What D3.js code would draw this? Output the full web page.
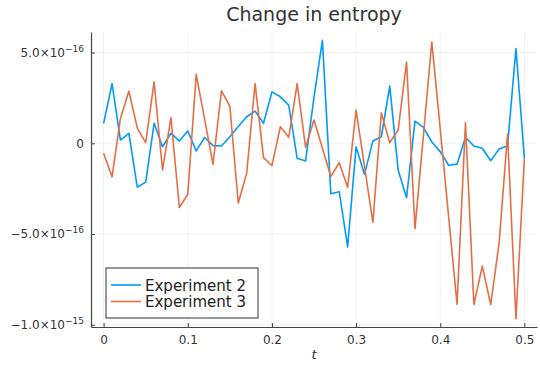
<html>
<head>
<script src="https://cdn.jsdelivr.net/npm/d3@7"></script>
<style>
    body { margin: 0; background: #fff; }
    text { font-family: "DejaVu Sans", sans-serif; fill: #333; }
</style>
</head>
<body>
<svg id="chart" width="540" height="365"></svg>
<script>
    // t values and the two series (values in units of 1e-16)
    const tValues = [0, 0.01, 0.02, 0.03, 0.04, 0.05, 0.06, 0.07, 0.08, 0.09,
        0.1, 0.11, 0.12, 0.13, 0.14, 0.15, 0.16, 0.17, 0.18, 0.19,
        0.2, 0.21, 0.22, 0.23, 0.24, 0.25, 0.26, 0.27, 0.28, 0.29,
        0.3, 0.31, 0.32, 0.33, 0.34, 0.35, 0.36, 0.37, 0.38, 0.39,
        0.4, 0.41, 0.42, 0.43, 0.44, 0.45, 0.46, 0.47, 0.48, 0.49, 0.5]
    const experiment2 = [1.10, 3.29, 0.18, 0.55, -2.42, -2.14, 1.10, -0.19, 0.55, 0.13,
        0.68, -0.42, 0.32, -0.13, -0.15, 0.36, 0.92, 1.46, 1.77, 1.10,
        2.83, 2.56, 2.10, -0.83, -0.97, 2.54, 5.67, -2.78, -2.67, -5.71,
        -0.20, -1.71, 0.13, 0.36, 3.15, -1.47, -3.00, 1.22, 0.88, 0.07,
        -0.46, -1.21, -1.15, 0.33, -0.15, -0.27, -0.96, -0.31, -0.13, 5.22, -0.82]
    const experiment3 = [-0.55, -1.85, 1.37, 2.87, 0.84, 0.04, 3.38, -1.47, 1.42, -3.54,
        -2.81, 3.80, 1.33, -1.16, 2.89, 2.05, -3.29, -1.65, 3.29, -0.79,
        -1.23, 0.91, 0.33, 3.29, -0.22, 1.28, -0.27, -1.83, -1.07, -2.43,
        1.83, -1.27, -4.36, 1.68, 0.03, 0.73, 4.48, -4.70, 0.43, 5.58,
        0.79, -4.05, -8.88, 1.13, -8.88, -6.77, -8.88, -5.49, 0.51, -9.66, -0.82]
    const seriesNames = ["Experiment 2", "Experiment 3"]
    const seriesColors = ["#009AFA", "#E36F47"]
    const unit = 1e-16

    const xTicks = [0, 0.1, 0.2, 0.3, 0.4, 0.5]
    const yTicks = [5e-16, 0, -5e-16, -1e-15]
    const yTickMantissa = ["5.0", "0", "\u22125.0", "\u22121.0"]
    const yTickExponent = ["\u221216", "", "\u221216", "\u221215"]

    const svg = d3.select("#chart")
    const plotLeft = 91, plotRight = 537, plotTop = 32, plotBottom = 327

    // Plots.jl style: widen the data range by 3%
    function widen(ext) {
        let pad = (ext[1] - ext[0]) * 0.03
        return [ext[0] - pad, ext[1] + pad]
    }
    let all = experiment2.concat(experiment3).map(d => d * unit)
    let x = d3.scaleLinear().domain(widen(d3.extent(tValues))).range([plotLeft, plotRight])
    let y = d3.scaleLinear().domain(widen(d3.extent(all))).range([plotBottom, plotTop])

    // grid
    let grid = svg.append("g")
    grid.selectAll(".gx").data(xTicks).enter().append("line")
        .attr("x1", d => x(d)).attr("x2", d => x(d))
        .attr("y1", plotTop).attr("y2", plotBottom)
        .style("stroke", "#000").style("stroke-opacity", 0.1).style("stroke-width", 0.6)
    grid.selectAll(".gy").data(yTicks).enter().append("line")
        .attr("x1", plotLeft).attr("x2", plotRight)
        .attr("y1", d => y(d)).attr("y2", d => y(d))
        .style("stroke", "#000").style("stroke-opacity", 0.1).style("stroke-width", 0.6)

    // lines
    let series = [experiment2, experiment3]
    let line = d3.line().x((d, i) => x(tValues[i])).y(d => y(d * unit))
    svg.selectAll(".series").data(series).enter().append("path")
        .attr("d", d => line(d))
        .style("fill", "none")
        .style("stroke", (d, i) => seriesColors[i])
        .style("stroke-width", 1.6)
        .style("stroke-linejoin", "round")

    // axes
    let xAxis = d3.axisBottom(x).tickValues(xTicks).tickSize(-4).tickSizeOuter(0).tickPadding(8)
        .tickFormat(d => d === 0 ? "0" : d3.format(".1f")(d))
    let xg = svg.append("g").attr("transform", `translate(0,${plotBottom})`).call(xAxis)
    let yAxis = d3.axisLeft(y).tickValues(yTicks).tickSize(-4).tickSizeOuter(0).tickPadding(7)
    let yg = svg.append("g").attr("transform", `translate(${plotLeft},0)`).call(yAxis)

    for (let g of [xg, yg]) {
        g.select(".domain").style("stroke", "#444").style("stroke-width", 1.2)
        g.selectAll(".tick line").style("stroke", "#444")
        g.selectAll(".tick text").style("font-size", "12px").style("fill", "#333")
            .style("font-family", "DejaVu Sans")
    }

    yg.selectAll(".tick text").each(function (d, i) {
        let t = d3.select(this).text("")
        t.append("tspan").text(yTickMantissa[i] + (yTickExponent[i] ? "\u00d710" : ""))
        if (yTickExponent[i]) {
            t.append("tspan").text(yTickExponent[i])
                .attr("dy", "-0.55em").style("font-size", "9px")
        }
    })

    // title + x label
    svg.append("text").text("Change in entropy")
        .attr("x", (plotLeft + plotRight) / 2).attr("y", 21)
        .attr("text-anchor", "middle").style("font-size", "19px")
    svg.append("text").text("t")
        .attr("x", (plotLeft + plotRight) / 2).attr("y", 359)
        .attr("text-anchor", "middle").style("font-size", "13px").style("font-style", "italic")

    // legend
    let legend = svg.append("g").attr("transform", "translate(106,268)")
    legend.append("rect").attr("width", 152).attr("height", 50)
        .style("fill", "#fff").style("stroke", "#333").style("stroke-width", 1)
    seriesNames.forEach((name, i) => {
        legend.append("line")
            .attr("x1", 5).attr("x2", 35)
            .attr("y1", 17 + i * 16.5).attr("y2", 17 + i * 16.5)
            .style("stroke", seriesColors[i]).style("stroke-width", 1.6)
        legend.append("text").text(name)
            .attr("x", 39).attr("y", 22.5 + i * 16.5)
            .style("font-size", "15px").style("fill", "#222")
    })
</script>
</body>
</html>
